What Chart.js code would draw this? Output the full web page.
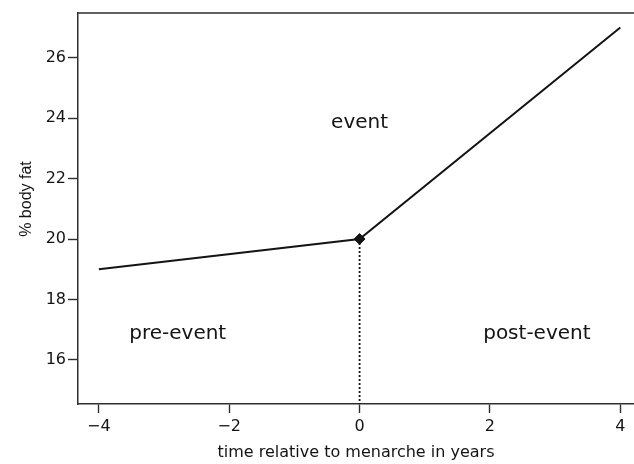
<!DOCTYPE html>
<html>
<head>
<meta charset="utf-8">
<script src="https://cdn.jsdelivr.net/npm/chart.js@4/dist/chart.umd.min.js"></script>
<style>
  html, body { margin: 0; padding: 0; background: #fff; overflow: hidden; }
  #wrap { width: 634px; height: 464px; }
</style>
</head>
<body>
<div id="wrap"><canvas id="c" width="634" height="464"></canvas></div>
<script>
// Piecewise model of body fat around menarche
const timeYears = [-4, 0, 4];
const bodyFat = [19, 20, 27];

// Menarche (the event) marker
const eventTime = [0];
const eventFat = [20];

// Axis ticks
const xTicks = [-4, -2, 0, 2, 4];
const yTicks = [16, 18, 20, 22, 24, 26];

// Phase labels placed in data units
const phaseNames = ['pre-event', 'event', 'post-event'];
const phaseX = [-2.79, 0, 2.72];
const phaseY = [16.85, 23.86, 16.85];

const X_MIN = -4.32, X_MAX = 4.21;
const Y_MIN = 14.54, Y_MAX = 27.48;

const ink = '#141414';
const axisInk = '#2e2e2e';
const tickFont = { family: 'DejaVu Sans', size: 16 };
const yTitle = '% body fat';

const fmt = v => (v < 0 ? '\u2212' + Math.abs(v) : String(v));

const framePlugin = {
  id: 'frameAndLabels',
  afterDraw(chart) {
    const { ctx, chartArea, scales } = chart;
    ctx.save();
    // top frame line
    ctx.strokeStyle = axisInk;
    ctx.lineWidth = 1.5;
    ctx.beginPath();
    ctx.moveTo(chartArea.left, chartArea.top);
    ctx.lineTo(chartArea.right, chartArea.top);
    ctx.stroke();
    // phase labels
    ctx.fillStyle = ink;
    ctx.font = '20px "DejaVu Sans"';
    ctx.textAlign = 'center';
    ctx.textBaseline = 'middle';
    phaseNames.forEach((name, i) => {
      ctx.fillText(name, scales.x.getPixelForValue(phaseX[i]), scales.y.getPixelForValue(phaseY[i]));
    });
    // vertical axis title
    ctx.translate(27, 199);
    ctx.rotate(-Math.PI / 2);
    ctx.font = '16px "Liberation Sans"';
    ctx.fillText(yTitle, 0, 0);
    ctx.restore();
  }
};

new Chart(document.getElementById('c'), {
  type: 'scatter',
  data: {
    datasets: [
      {
        // dotted drop line from the event down to the axis
        data: [{ x: eventTime[0], y: eventFat[0] }, { x: eventTime[0], y: Y_MIN }],
        showLine: true,
        borderColor: ink,
        borderWidth: 1.8,
        borderDash: [2, 2],
        pointRadius: 0,
        clip: false
      },
      {
        data: timeYears.map((t, i) => ({ x: t, y: bodyFat[i] })),
        showLine: true,
        borderColor: ink,
        borderWidth: 2,
        pointRadius: 0
      },
      {
        data: eventTime.map((t, i) => ({ x: t, y: eventFat[i] })),
        pointStyle: 'rectRot',
        pointRadius: 5.5,
        backgroundColor: ink,
        borderColor: ink,
        borderWidth: 1
      }
    ]
  },
  options: {
    responsive: false,
    animation: false,
    events: [],
    layout: { autoPadding: false, padding: { top: 13, right: 0, bottom: 0, left: 0 } },
    plugins: { legend: { display: false }, tooltip: { enabled: false } },
    scales: {
      x: {
        type: 'linear',
        min: X_MIN,
        max: X_MAX,
        afterBuildTicks: s => { s.ticks = xTicks.map(v => ({ value: v })); },
        afterFit: s => { s.height = 60; s.paddingLeft = 0; s.paddingRight = 0; },
        border: { display: true, color: axisInk, width: 1.5 },
        grid: { drawOnChartArea: false, tickLength: 9, tickColor: axisInk, tickWidth: 1.4 },
        ticks: { color: ink, font: tickFont, padding: 4, maxRotation: 0, callback: fmt },
        title: {
          display: true,
          text: 'time relative to menarche in years',
          color: ink,
          font: { family: 'DejaVu Sans', size: 16 },
          padding: { top: 0, bottom: 2 }
        }
      },
      y: {
        type: 'linear',
        min: Y_MIN,
        max: Y_MAX,
        afterBuildTicks: s => { s.ticks = yTicks.map(v => ({ value: v })); },
        afterFit: s => { s.width = 78; s.paddingTop = 0; s.paddingBottom = 0; },
        border: { display: true, color: axisInk, width: 1.5 },
        grid: { drawOnChartArea: false, tickLength: 10, tickColor: axisInk, tickWidth: 1.4 },
        ticks: { color: ink, font: tickFont, padding: 2, callback: fmt }
      }
    }
  },
  plugins: [framePlugin]
});
</script>
</body>
</html>
